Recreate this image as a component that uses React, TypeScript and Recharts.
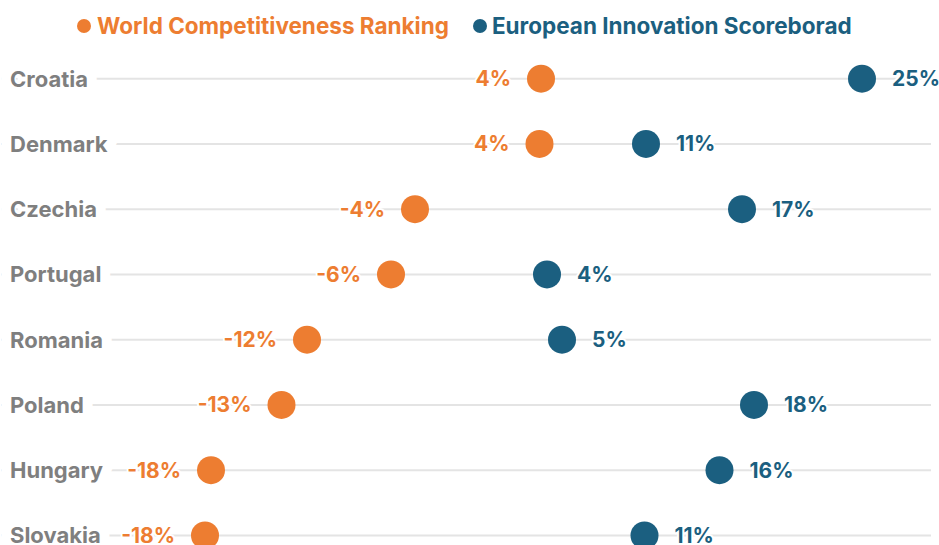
import { ScatterChart, Scatter, XAxis, YAxis, CartesianGrid } from 'recharts';

const countries = ['Croatia', 'Denmark', 'Czechia', 'Portugal', 'Romania', 'Poland', 'Hungary', 'Slovakia'];
const competitiveness = [4.0, 3.9, -4.4, -6.0, -11.6, -13.3, -18.0, -18.4];
const innovation = [25.4, 11.0, 17.4, 4.4, 5.4, 18.2, 15.9, 10.9];
const rowTicks = [0, 1, 2, 3, 4, 5, 6, 7];

const ORANGE = '#ED7D31';
const BLUE = '#1B5F80';
const FONT = 'Inter, "Open Sans", sans-serif';

const wcrData = countries.map((country, i) => ({ country, row: i, value: competitiveness[i] }));
const eisData = countries.map((country, i) => ({ country, row: i, value: innovation[i] }));

const pct = (v: number) => `${Math.round(v)}%`;

const makeDot = (color: string, side: 'left' | 'right') => (props: any) => {
  const { cx, cy, payload } = props;
  return (
    <g>
      <circle cx={cx} cy={cy} r={14} fill={color} />
      <text
        x={side === 'left' ? cx - 30 : cx + 30}
        y={cy}
        dy="0.36em"
        textAnchor={side === 'left' ? 'end' : 'start'}
        fill={color}
        fontSize={21}
        fontWeight={700}
        fontFamily={FONT}
        stroke="#fff"
        strokeWidth={4}
        strokeLinejoin="round"
        paintOrder="stroke"
      >
        {pct(payload.value)}
      </text>
    </g>
  );
};

// country name; the wide white stroke hides the grid line behind it
const CountryTick = (props: any) => {
  const { y, payload } = props;
  return (
    <text
      x={10}
      y={y}
      dy="0.36em"
      textAnchor="start"
      fill="#7f7f7f"
      fontSize={22}
      fontWeight={700}
      fontFamily={FONT}
      stroke="#fff"
      strokeWidth={20}
      strokeLinejoin="round"
      paintOrder="stroke"
    >
      {countries[payload.value]}
    </text>
  );
};

export default function App() {
  return (
    <div
      style={{
        position: 'absolute',
        left: 0,
        top: 0,
        width: 939,
        height: 545,
        overflow: 'hidden',
        background: '#fff',
      }}
    >
      <ScatterChart width={939} height={568} margin={{ top: 46, right: 8, bottom: 0, left: 0 }}>
        <CartesianGrid
          horizontal
          vertical={false}
          stroke="#e4e4e4"
          strokeWidth={2}
          horizontalValues={rowTicks}
        />
        <XAxis type="number" dataKey="value" domain={[-32, 30]} hide />
        <YAxis
          type="number"
          dataKey="row"
          domain={[-0.5, 7.5]}
          ticks={rowTicks}
          interval={0}
          reversed
          width={1}
          axisLine={false}
          tickLine={false}
          tick={<CountryTick />}
        />
        <Scatter data={wcrData} shape={makeDot(ORANGE, 'left')} isAnimationActive={false} />
        <Scatter data={eisData} shape={makeDot(BLUE, 'right')} isAnimationActive={false} />
      </ScatterChart>

      {/* Legend */}
      <div
        style={{
          position: 'absolute',
          left: 77,
          top: 12,
          display: 'flex',
          alignItems: 'center',
          fontFamily: FONT,
          fontWeight: 700,
          fontSize: 22.5,
          lineHeight: '28px',
          whiteSpace: 'nowrap',
        }}
      >
        <span style={{ width: 14, height: 14, borderRadius: 7, background: ORANGE, marginRight: 6 }} />
        <span style={{ color: ORANGE }}>World Competitiveness Ranking</span>
        <span style={{ width: 14, height: 14, borderRadius: 7, background: BLUE, marginLeft: 24, marginRight: 5 }} />
        <span style={{ color: BLUE }}>European Innovation Scoreborad</span>
      </div>
    </div>
  );
}
